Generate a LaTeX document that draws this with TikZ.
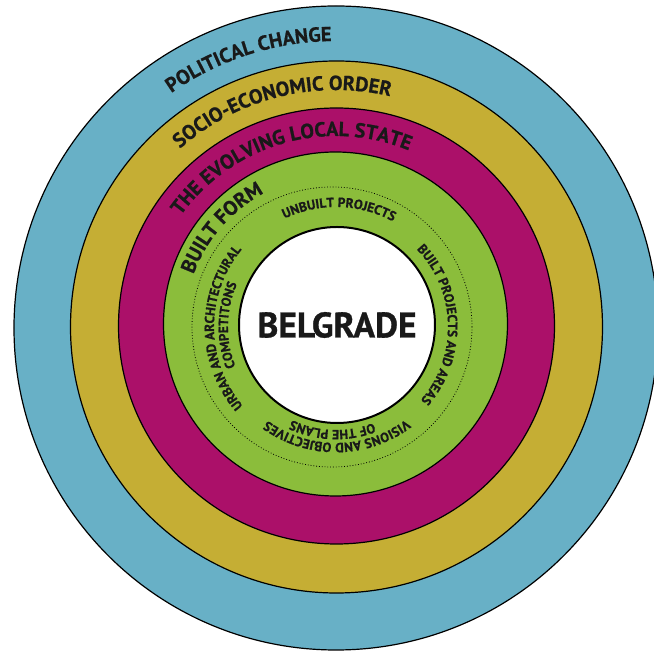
\documentclass[tikz,border=0pt]{standalone}
\usepackage{fontspec}
\setmainfont[BoldFeatures={FakeBold=0.8}]{PT Sans}
\usetikzlibrary{decorations.text}
\definecolor{ringblue}{RGB}{104,176,198}
\definecolor{ringgold}{RGB}{197,174,52}
\definecolor{ringmagenta}{RGB}{171,16,105}
\definecolor{ringgreen}{RGB}{139,189,59}
\definecolor{inkdark}{RGB}{25,25,25}
\newcommand\bigringfont{\bfseries\fontsize{20.3}{20.3}\selectfont\color{inkdark}}
\newcommand\smallringfont{\bfseries\fontsize{13.3}{13.3}\selectfont\color{inkdark}}
\newcommand\arctext[4]{%
  \path[decorate,decoration={text along path,text={|#1|#2},text align=center}]
    ({#3+75}:#4pt) arc[start angle={#3+75}, end angle={#3-75}, radius=#4pt];}
\tikzset{
  ring/.style={draw=black, line width=1.2pt},
  hub/.style={circle, draw=black, line width=2pt, fill=white, minimum size=196pt, inner sep=0pt,
    font=\bfseries\fontsize{35.5}{35.5}\selectfont, text=inkdark},
  guide/.style={draw=black, line width=0.8pt, dotted}
}
\begin{document}
\begin{tikzpicture}
\useasboundingbox (-336pt,-325pt) rectangle (318pt,327pt);
\fill[white] (-336pt,-325pt) rectangle (318pt,327pt);
\clip (-336pt,-325pt) rectangle (318pt,327pt);
% rings
\filldraw[ring, fill=ringblue] (0pt,-1pt) circle[radius=322pt];
\filldraw[ring, fill=ringgold] (0.5pt,0pt) circle[radius=266pt];
\filldraw[ring, fill=ringmagenta] (0.5pt,1pt) circle[radius=218pt];
\filldraw[ring, fill=ringgreen] (-0.5pt,3pt) circle[radius=172pt];
\draw[guide] (-4pt,0pt) circle[radius=140pt];
% centre
\node[hub] (belgrade) at (1pt,2pt) {BELGRADE};
% ring labels
\arctext{\bigringfont}{POLITICAL CHANGE}{108}{286}
\arctext{\bigringfont}{SOCIO-ECONOMIC ORDER}{104}{237}
\arctext{\bigringfont}{THE EVOLVING LOCAL STATE}{106}{191}
\arctext{\bigringfont}{BUILT FORM}{139}{152}
\arctext{\smallringfont}{UNBUILT PROJECTS}{88.5}{120}
\arctext{\smallringfont}{BUILT PROJECTS AND AREAS}{1.5}{112}
\arctext{\smallringfont}{URBAN AND ARCHITECTURAL}{180.5}{122}
\arctext{\smallringfont}{COMPETITONS}{179}{108}
\arctext{\smallringfont}{VISIONS AND OBJECTIVES}{-89.5}{116}
\arctext{\smallringfont}{OF THE PLANS}{-92}{103}
\end{tikzpicture}
\end{document}
